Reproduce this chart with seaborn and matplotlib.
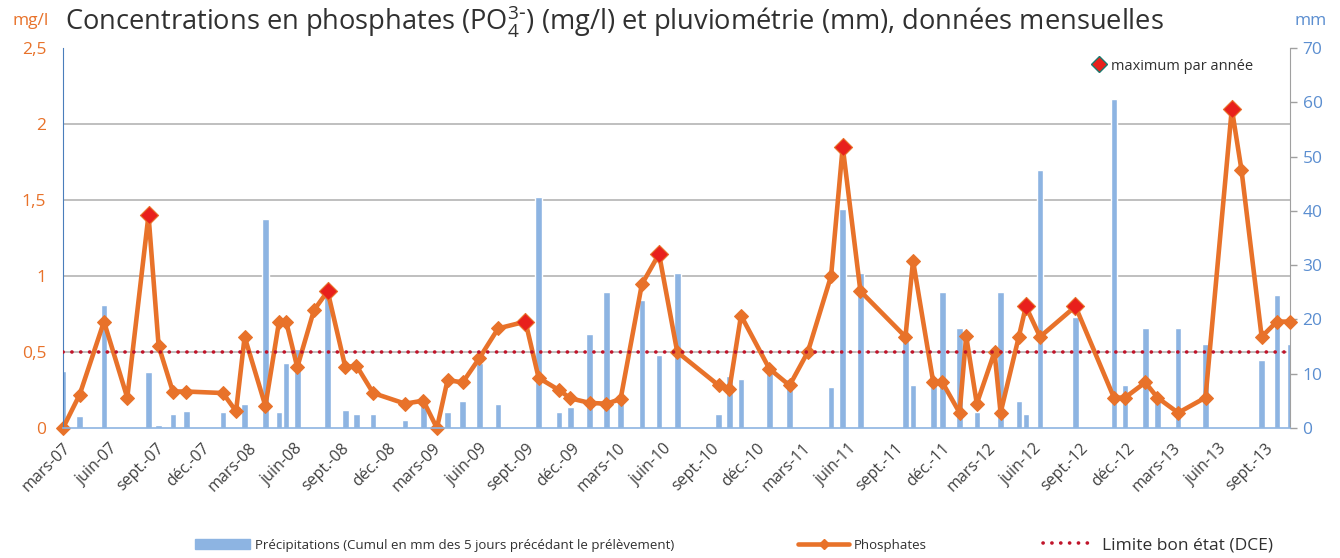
import pandas as pd
import matplotlib
matplotlib.use("Agg")
import matplotlib.pyplot as plt
import matplotlib.dates as mdates
from matplotlib.ticker import MultipleLocator, FuncFormatter
from matplotlib.patches import Patch
from matplotlib.lines import Line2D
import seaborn as sns

# dates de prélèvement
dates = [
    "2007-03-01", "2007-04-03", "2007-05-21", "2007-07-06", "2007-08-17", "2007-09-06",
    "2007-10-04", "2007-10-31", "2008-01-11", "2008-02-06", "2008-02-23", "2008-04-04",
    "2008-05-01", "2008-05-15", "2008-06-06", "2008-07-09", "2008-08-05", "2008-09-09",
    "2008-10-01", "2008-11-03", "2009-01-05", "2009-02-10", "2009-03-09", "2009-03-30",
    "2009-04-29", "2009-06-01", "2009-07-08", "2009-08-31", "2009-09-26", "2009-11-05",
    "2009-11-28", "2010-01-05", "2010-02-07", "2010-03-07", "2010-04-18", "2010-05-22",
    "2010-06-27", "2010-09-17", "2010-10-08", "2010-10-31", "2010-12-26", "2011-02-04",
    "2011-03-12", "2011-04-27", "2011-05-20", "2011-06-24", "2011-09-21", "2011-10-06",
    "2011-11-15", "2011-12-03", "2012-01-06", "2012-01-19", "2012-02-09", "2012-03-15",
    "2012-03-27", "2012-05-02", "2012-05-16", "2012-06-13", "2012-08-22", "2012-11-06",
    "2012-11-28", "2013-01-07", "2013-01-31", "2013-03-13", "2013-05-06", "2013-06-27",
    "2013-07-16", "2013-08-25", "2013-09-24", "2013-10-20",
]

# phosphates (mg/l)
phosphates = [
    0.00, 0.22, 0.70, 0.20, 1.40, 0.54,
    0.24, 0.24, 0.23, 0.11, 0.60, 0.145,
    0.70, 0.70, 0.40, 0.775, 0.90, 0.40,
    0.41, 0.23, 0.16, 0.18, 0.00, 0.315,
    0.30, 0.46, 0.655, 0.70, 0.33, 0.25,
    0.195, 0.165, 0.16, 0.19, 0.945, 1.145,
    0.50, 0.28, 0.255, 0.74, 0.39, 0.28,
    0.50, 1.00, 1.85, 0.90, 0.60, 1.10,
    0.30, 0.30, 0.10, 0.605, 0.16, 0.50,
    0.10, 0.60, 0.80, 0.60, 0.80, 0.20,
    0.20, 0.30, 0.20, 0.10, 0.20, 2.10,
    1.70, 0.60, 0.70, 0.70,
]

# précipitations (mm, cumul 5 jours)
precipitations = [
    10.5, 2.3, 22.7, 0.0, 10.3, 0.6,
    2.5, 3.1, 3.0, 0.0, 4.5, 38.5,
    3.0, 12.0, 14.5, 0.0, 24.8, 3.4,
    2.5, 2.5, 1.5, 4.7, 0.0, 3.0,
    5.0, 12.0, 4.5, 0.0, 42.6, 3.0,
    3.9, 17.4, 25.0, 5.5, 23.6, 13.4,
    28.5, 2.5, 9.5, 9.0, 10.4, 9.0,
    0.0, 7.5, 40.4, 28.5, 16.7, 7.9,
    8.2, 25.0, 18.5, 0.0, 3.0, 0.0,
    25.0, 5.0, 2.5, 47.5, 20.5, 60.6,
    8.0, 18.5, 5.8, 18.5, 15.5, 0.0,
    0.0, 12.5, 24.5, 15.5,
]

limite_dce = 0.5

mois = {3: "mars", 6: "juin", 9: "sept.", 12: "déc."}

df = pd.DataFrame({"date": pd.to_datetime(dates), "po4": phosphates, "pluie": precipitations})
annee = df["date"].dt.year
maxima = df[df["po4"] == df.groupby(annee)["po4"].transform("max")]

orange = "#E8722A"
bleu = "#8DB4E2"
bleu_txt = "#5B8ED0"
rouge = "#E8201C"
rouge_dce = "#C0142A"
gris = "#404040"

sns.set_style("white")
plt.rcParams["font.family"] = ["Open Sans", "DejaVu Sans"]

fig = plt.figure(figsize=(13.4, 5.58), dpi=100)
ax = fig.add_axes([63 / 1340, 1 - 428 / 558, (1290 - 63) / 1340, (428 - 48) / 558])
axb = ax.twinx()
ax.set_zorder(axb.get_zorder() + 1)
ax.patch.set_visible(False)

# précipitations (axe de droite)
barres = axb.bar(df["date"], df["pluie"], width=13, color=bleu, zorder=2)
axb.set_ylim(0, 70)
axb.yaxis.set_major_locator(MultipleLocator(10))
axb.yaxis.set_minor_locator(MultipleLocator(14))
axb.grid(which="minor", axis="y", color="#B4B4B4", linewidth=1.2)
axb.grid(which="major", visible=False)
axb.set_axisbelow(True)
axb.tick_params(axis="y", which="major", colors="#A0A0A0", labelcolor=bleu_txt,
                labelsize=12.5, length=5, width=1, pad=4)
axb.tick_params(axis="y", which="minor", length=0)

# phosphates (axe de gauche)
sns.lineplot(data=df, x="date", y="po4", ax=ax, color=orange, linewidth=3.3,
             marker="D", markersize=7.5, markeredgecolor=orange, estimator=None)
ligne = ax.lines[-1]
ligne.set_clip_on(False)
sns.scatterplot(data=maxima, x="date", y="po4", ax=ax, marker="D", s=85,
                color=rouge, edgecolor=orange, linewidth=0.8, zorder=5, clip_on=False)
dce = ax.axhline(limite_dce, color=rouge_dce, linewidth=2.6,
                 linestyle=(0, (0.05, 2.4)), dash_capstyle="round", zorder=3)

ax.set_ylim(0, 2.5)
ax.yaxis.set_major_locator(MultipleLocator(0.5))
ax.yaxis.set_major_formatter(FuncFormatter(lambda v, p: f"{v:g}".replace(".", ",")))
ax.tick_params(axis="y", colors=orange, labelsize=12.5, length=0, pad=12)

ax.set_xlim(df["date"].min(), df["date"].max())
ax.xaxis.set_major_locator(mdates.MonthLocator(bymonth=[3, 6, 9, 12]))
ax.xaxis.set_minor_locator(mdates.MonthLocator())
ax.xaxis.set_major_formatter(FuncFormatter(
    lambda v, p: f"{mois[mdates.num2date(v).month]}-{mdates.num2date(v):%y}"))
ax.tick_params(axis="x", which="major", colors=bleu, labelcolor=gris, labelsize=11.5,
               length=6, width=1, pad=3)
ax.tick_params(axis="x", which="minor", colors=bleu, length=3, width=1)
for lab in ax.get_xticklabels():
    lab.set_rotation(45)
    lab.set_ha("right")
    lab.set_va("top")
    lab.set_rotation_mode("anchor")

ax.set_xlabel("")
ax.set_ylabel("")
axb.set_ylabel("")

for s in ["top", "right"]:
    ax.spines[s].set_visible(False)
for s in ["top", "left", "bottom"]:
    axb.spines[s].set_visible(False)
ax.spines["left"].set_color("#4A7EBB")
ax.spines["bottom"].set_color(bleu)
ax.spines["bottom"].set_linewidth(1.2)
axb.spines["right"].set_color("#A0A0A0")

# titres
fig.text(65 / 1340, 1 - 21 / 558,
         r"Concentrations en phosphates (PO$_{\mathregular{4}}^{\mathregular{3\text{-}}}$) (mg/l) et pluviométrie (mm), données mensuelles",
         fontsize=19.6, color="#303030", va="center", ha="left")
fig.text(31 / 1340, 1 - 21 / 558, "mg/l", fontsize=12.5, color=orange, va="center", ha="center")
fig.text(1311 / 1340, 1 - 21 / 558, "mm", fontsize=12.5, color=bleu_txt, va="center", ha="center")

# légendes
h_max = Line2D([], [], marker="D", color="none", markerfacecolor=rouge,
               markeredgecolor="#1B7A6E", markersize=8)
ax.legend(handles=[h_max], labels=["maximum par année"], loc="center left",
          bbox_to_anchor=((1092 - 63) / 1227, (428 - 66) / 380), frameon=False,
          fontsize=10.5, handlelength=1, handletextpad=0.3, borderpad=0, borderaxespad=0,
          labelcolor="#303030")

h_pluie = Patch(color=bleu)
h_po4 = Line2D([], [], color=orange, linewidth=3.3, marker="D", markersize=5)
h_dce = Line2D([], [], color=rouge_dce, linewidth=2.6, linestyle=(0, (0.05, 2.4)),
               dash_capstyle="round")
yl = 1 - 545 / 558
fig.legend(handles=[h_pluie], labels=["Précipitations (Cumul en mm des 5 jours précédant le prélèvement)"],
           loc="center left", bbox_to_anchor=(195 / 1340, yl), frameon=False, fontsize=9.5,
           handlelength=4.2, handleheight=0.8, handletextpad=0.35, borderpad=0, borderaxespad=0,
           labelcolor="#303030")
fig.legend(handles=[h_po4], labels=["Phosphates"],
           loc="center left", bbox_to_anchor=(798 / 1340, yl), frameon=False, fontsize=9.5,
           handlelength=3.9, handletextpad=0.35, borderpad=0, borderaxespad=0,
           labelcolor="#303030")
fig.legend(handles=[h_dce], labels=["Limite bon état (DCE)"],
           loc="center left", bbox_to_anchor=(1043 / 1340, yl), frameon=False, fontsize=12.5,
           handlelength=2.9, handletextpad=0.5, borderpad=0, borderaxespad=0,
           labelcolor="#303030")

fig.savefig("out.png", dpi=100)
